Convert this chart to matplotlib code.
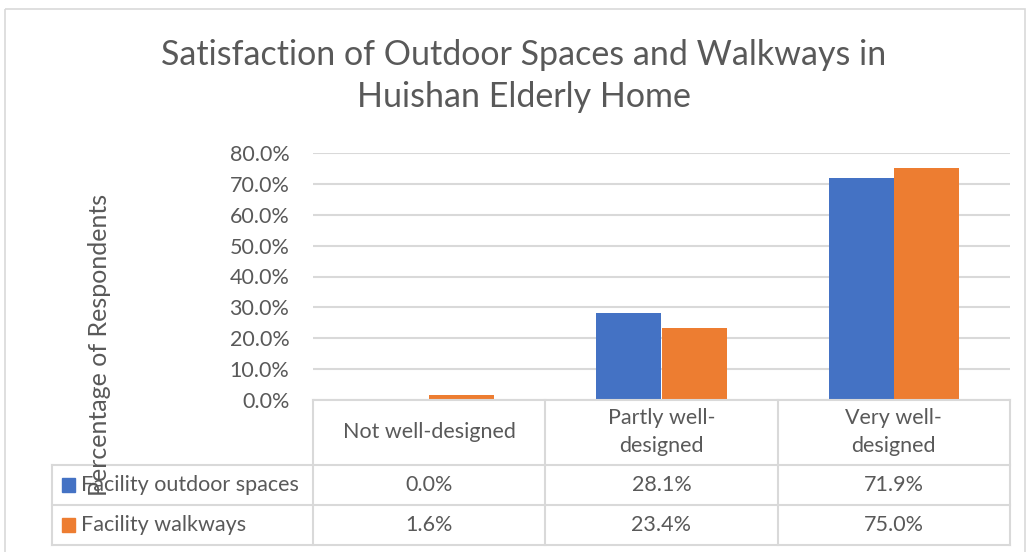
import matplotlib.pyplot as plt
from matplotlib.patches import Rectangle

plt.rcParams['font.family'] = ['Lato', 'DejaVu Sans']

BLUE   = '#4472C4'
ORANGE = '#ED7D31'
TEXT   = '#595959'
GRID   = '#D9D9D9'

# data
categories = ["Not well-designed", "Partly well-\ndesigned", "Very well-\ndesigned"]
series     = ["Facility outdoor spaces", "Facility walkways"]
outdoor    = [0.0, 28.1, 71.9]
walkways   = [1.6, 23.4, 75.0]
yticks     = [0, 10, 20, 30, 40, 50, 60, 70, 80]

W, H = 1029, 552
fig = plt.figure(figsize=(W / 100, H / 100), dpi=100)

# plot area in pixels
px_l, px_r, px_top, px_bot = 313, 1010, 153, 400
ax = fig.add_axes([px_l / W, 1 - px_bot / H, (px_r - px_l) / W, (px_bot - px_top) / H])

n = len(categories)
xs = [i + 0.5 for i in range(n)]
bw = 0.28
ax.bar([x - bw / 2 for x in xs], outdoor, width=bw, color=BLUE, zorder=3)
ax.bar([x + bw / 2 for x in xs], walkways, width=bw, color=ORANGE, zorder=3)

ax.set_xlim(0, n)
ax.set_ylim(0, 80)
ax.set_yticks(yticks)
ax.set_yticklabels([f"{t:.1f}%" for t in yticks], color=TEXT, fontsize=15.5)
ax.tick_params(axis='y', length=0, pad=17)
ax.set_xticks([])
ax.grid(axis='y', color=GRID, linewidth=1.5, zorder=0)
for s in ax.spines.values():
    s.set_visible(False)

# overlay in pixel coordinates for frame, table and labels
ov = fig.add_axes([0, 0, 1, 1], zorder=5)
ov.set_xlim(0, W)
ov.set_ylim(H, 0)
ov.axis('off')
ov.patch.set_alpha(0)

# outer chart frame
ov.add_patch(Rectangle((5, 9), 1020, 560, fill=False, edgecolor=GRID, linewidth=1.2))

# title
ov.text(524, 55, "Satisfaction of Outdoor Spaces and Walkways in", ha='center', va='center',
        fontsize=24.5, color=TEXT)
ov.text(524, 97, "Huishan Elderly Home", ha='center', va='center', fontsize=24.5, color=TEXT)

# y label
ov.text(100, 345, "Percentage of Respondents", rotation=90, ha='center', va='center',
        fontsize=18, color=TEXT)

# data table
col_edges = [px_l + i * (px_r - px_l) / n for i in range(n + 1)]
row_y = [400, 465, 505, 545]
tab_l = 52
lw = 1.5
ov.plot([px_l, px_r], [row_y[0], row_y[0]], color=GRID, lw=lw)
for y in row_y[1:]:
    ov.plot([tab_l, px_r], [y, y], color=GRID, lw=lw)
for x in col_edges:
    ov.plot([x, x], [row_y[0], row_y[-1]], color=GRID, lw=lw)
ov.plot([tab_l, tab_l], [row_y[1], row_y[-1]], color=GRID, lw=lw)

for i, cat in enumerate(categories):
    cx = (col_edges[i] + col_edges[i + 1]) / 2
    ov.text(cx, (row_y[0] + row_y[1]) / 2, cat, ha='center', va='center', fontsize=15.5,
            color=TEXT, linespacing=1.5)

for r, (name, vals, col) in enumerate([(series[0], outdoor, BLUE), (series[1], walkways, ORANGE)]):
    cy = (row_y[r + 1] + row_y[r + 2]) / 2
    ov.add_patch(Rectangle((62, cy - 7), 13, 14, color=col))
    ov.text(81, cy, name, ha='left', va='center', fontsize=15.5, color=TEXT)
    for i, v in enumerate(vals):
        cx = (col_edges[i] + col_edges[i + 1]) / 2
        ov.text(cx, cy, f"{v:.1f}%", ha='center', va='center', fontsize=15.5, color=TEXT)

fig.savefig("out.png", dpi=100)
